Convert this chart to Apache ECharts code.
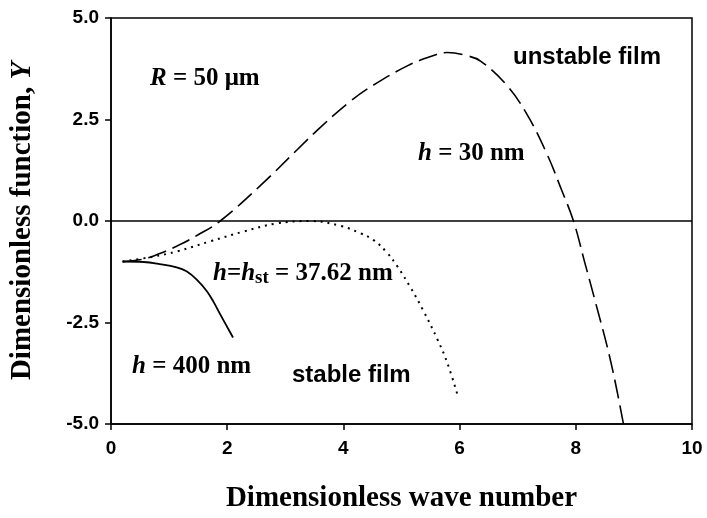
<!DOCTYPE html>
<html>
<head>
<meta charset="utf-8">
<script src="https://cdn.jsdelivr.net/npm/echarts@6/dist/echarts.min.js"></script>
<style>
html, body { margin: 0; padding: 0; background: #fff; }
#chart { width: 707px; height: 518px; }
</style>
</head>
<body>
<div id="chart"></div>
<script>
// values
var h30X = [0.2, 0.55, 0.84, 1.13, 1.5, 1.88, 2.57, 3.2, 3.66, 4.12, 4.52, 5.1, 5.5, 5.79, 6.1, 6.36, 6.82, 7.17, 7.51, 7.74, 7.96, 8.15, 8.32, 8.6, 8.82];
var h30Y = [-1.0, -0.94, -0.8, -0.62, -0.34, 0.0, 0.87, 1.75, 2.38, 2.95, 3.35, 3.82, 4.05, 4.15, 4.08, 3.94, 3.33, 2.6, 1.63, 0.82, 0.0, -1.0, -1.9, -3.45, -5.0];
var hstX = [0.2, 0.72, 1.13, 1.71, 2.28, 2.85, 3.43, 3.95, 4.29, 4.52, 4.75, 4.93, 5.16, 5.38, 5.62, 5.79, 5.98];
var hstY = [-1.0, -0.88, -0.75, -0.5, -0.26, -0.06, 0.0, -0.12, -0.3, -0.47, -0.78, -1.12, -1.65, -2.22, -2.92, -3.5, -4.36];
var h400X = [0.2, 0.56, 0.84, 1.13, 1.3, 1.48, 1.65, 1.76, 1.88, 2.1];
var h400Y = [-1.0, -1.01, -1.06, -1.14, -1.24, -1.45, -1.73, -1.98, -2.3, -2.87];

function pairs(xs, ys) {
    var out = [];
    for (var i = 0; i < xs.length; i++) out.push([xs[i], ys[i]]);
    return out;
}

var serif = '"Liberation Serif", "Times New Roman", serif';
var sans = '"Liberation Sans", Arial, sans-serif';

var myChart = echarts.init(document.getElementById('chart'));

var annoSerif = {
    fontFamily: serif,
    fontWeight: 'bold',
    fontSize: 25,
    fill: '#000',
    rich: {
        i: { fontFamily: serif, fontWeight: 'bold', fontStyle: 'italic', fontSize: 25 },
        s: { fontFamily: serif, fontWeight: 'bold', fontSize: 19, padding: [10, 0, 0, 0] }
    }
};

function serifText(left, top, text) {
    return {
        type: 'text',
        left: left,
        top: top,
        style: Object.assign({ text: text }, annoSerif)
    };
}

function sansText(left, top, text) {
    return {
        type: 'text',
        left: left,
        top: top,
        style: { text: text, fontFamily: sans, fontWeight: 'bold', fontSize: 24, fill: '#000' }
    };
}

var option = {
    animation: false,
    backgroundColor: '#fff',
    grid: {
        left: 111,
        right: 15,
        top: 18,
        bottom: 90,
        show: true,
        borderColor: '#000',
        borderWidth: 1.5
    },
    xAxis: {
        type: 'value',
        min: 0,
        max: 10,
        interval: 2,
        name: 'Dimensionless wave number',
        nameLocation: 'middle',
        nameGap: 60,
        nameTextStyle: { fontFamily: serif, fontWeight: 'bold', fontSize: 29, color: '#000' },
        axisLine: { onZero: false, lineStyle: { color: '#000', width: 1.5 } },
        axisTick: { show: true, inside: false, length: 6, lineStyle: { color: '#000', width: 1.5 } },
        axisLabel: { margin: 15, fontFamily: sans, fontWeight: 'bold', fontSize: 19, color: '#000' },
        splitLine: { show: false }
    },
    yAxis: {
        type: 'value',
        min: -5,
        max: 5,
        interval: 2.5,
        name: '{a|Dimensionless function, }{b|Y}',
        nameLocation: 'middle',
        nameGap: 74,
        nameTextStyle: {
            color: '#000',
            rich: {
                a: { fontFamily: serif, fontWeight: 'bold', fontSize: 29 },
                b: { fontFamily: serif, fontWeight: 'bold', fontStyle: 'italic', fontSize: 29 }
            }
        },
        axisLine: { onZero: false, lineStyle: { color: '#000', width: 1.5 } },
        axisTick: { show: true, inside: false, length: 6, lineStyle: { color: '#000', width: 1.5 } },
        axisLabel: {
            margin: 12,
            fontFamily: sans,
            fontWeight: 'bold',
            fontSize: 19,
            color: '#000',
            formatter: function (v) { return v.toFixed(1); }
        },
        splitLine: { show: false }
    },
    series: [{
        name: 'h = 30 nm',
        type: 'line',
        data: pairs(h30X, h30Y),
        smooth: 0.4,
        showSymbol: false,
        lineStyle: { color: '#000', width: 1.6, type: [19, 7] },
        markLine: {
            silent: true,
            symbol: 'none',
            label: { show: false },
            lineStyle: { color: '#000', width: 1.5, type: 'solid' },
            data: [{ yAxis: 0 }]
        }
    }, {
        name: 'h = hst',
        type: 'line',
        data: pairs(hstX, hstY),
        smooth: 0.4,
        showSymbol: false,
        lineStyle: { color: '#000', width: 2, type: [2, 5] }
    }, {
        name: 'h = 400 nm',
        type: 'line',
        data: pairs(h400X, h400Y),
        smooth: 0.4,
        showSymbol: false,
        lineStyle: { color: '#000', width: 1.8, type: 'solid' }
    }],
    graphic: [
        serifText(150, 66, '{i|R} = 50 μm'),
        serifText(418, 141, '{i|h} = 30 nm'),
        serifText(213, 261, '{i|h}={i|h}{s|st} = 37.62 nm'),
        serifText(132, 354, '{i|h} = 400 nm'),
        sansText(513, 45, 'unstable film'),
        sansText(292, 363, 'stable film')
    ]
};

myChart.setOption(option);
</script>
</body>
</html>
